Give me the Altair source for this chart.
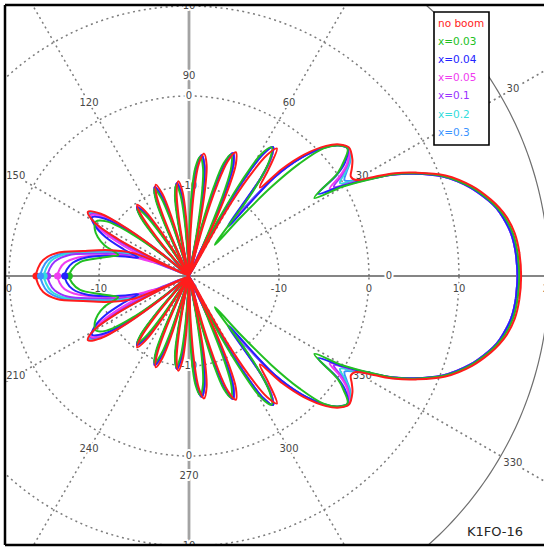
import math

import altair as alt
import pandas as pd

# ---------------------------------------------------------------- series
SERIES = ["no boom", "x=0.03", "x=0.04", "x=0.05", "x=0.1", "x=0.2", "x=0.3"]
COLORS = ["#ff1c1c", "#22bf22", "#2323ff", "#f03cf0", "#9933ff", "#33dcdc", "#3b94ff"]
DRAW_ORDER = ["x=0.3", "x=0.2", "x=0.1", "x=0.05", "x=0.04", "x=0.03", "no boom"]

# Upper half of each elevation pattern, (degrees, dBi); lower half is its mirror.
# Main lobe, first side lobe and the 56 deg lobe
HEAD_NO_BOOM = [(0, 16.9), (4, 16.8), (7.5, 16.5), (10.5, 15.9), (12.4, 15.3), (14.2, 14.6),
                (17.6, 13.0), (21.4, 10.6), (24.5, 7.7), (26.5, 5.6), (28.2, 3.3), (29.9, 1.4),
                (31.5, 1.1), (33.5, 1.7), (35.5, 2.3), (38.8, 2.8), (41.2, 2.2), (43.5, 1.0),
                (46.5, -1.4), (49.0, -4.2), (51.3, -7.4), (53.3, -5.2), (55.4, -2.8),
                (57.2, -4.0), (58.8, -7.0), (60.4, -12.0), (62.4, -30)]
HEAD_X003 = [(0, 16.7), (4, 16.6), (7.5, 16.3), (10.5, 15.7), (12.4, 15.1), (14.2, 14.4),
             (17.6, 12.8), (21.4, 10.4), (24.5, 7.5), (26.5, 5.3), (28.2, 2.7), (30.2, -0.3),
             (31.9, -3.6), (34.7, 0.1), (36.5, 1.4), (38.8, 2.6), (41.2, 2.0), (43.5, 0.6),
             (45.5, -2.5), (47.2, -6.5), (48.7, -11.5), (50.3, -15.5), (53.0, -8.0),
             (55.2, -4.3), (57.3, -3.0), (59.3, -4.2), (61.0, -8.0), (62.5, -13.0),
             (64.0, -17.0)]
HEAD_X004 = [(0, 16.5), (4, 16.4), (7.5, 16.1), (10.5, 15.5), (12.4, 15.0), (14.2, 14.3),
             (17.6, 12.7), (21.4, 10.3), (24.5, 7.4), (26.5, 5.2), (28.2, 2.8), (30.4, -0.2),
             (32.5, -3.0), (34.3, -0.2), (36.0, 1.4), (38.8, 2.6), (41.2, 2.0), (43.5, 0.7),
             (46.5, -1.9), (49.2, -5.6), (51.8, -13.0), (53.8, -6.4), (55.2, -4.1),
             (56.9, -2.9), (58.7, -4.1), (60.3, -7.5), (61.8, -12.5), (63.4, -30)]
HEAD_X005 = [(0, 16.5), (4, 16.4), (7.5, 16.1), (10.5, 15.5), (12.4, 15.0), (14.2, 14.3),
             (17.6, 12.7), (21.4, 10.3), (24.5, 7.4), (26.5, 5.2), (28.2, 2.9), (30.2, 0.3),
             (31.8, -1.6), (33.6, 0.2), (35.5, 1.6), (38.8, 2.7), (41.2, 2.1), (43.5, 0.8),
             (46.5, -1.8), (49.2, -5.5), (51.8, -12.0), (53.8, -6.3), (55.2, -4.0),
             (56.9, -2.9), (58.7, -4.1), (60.3, -7.5), (61.8, -12.5), (63.4, -30)]
HEAD_X01 = [(0, 16.5), (4, 16.4), (7.5, 16.1), (10.5, 15.5), (12.4, 15.0), (14.2, 14.3),
            (17.6, 12.7), (21.4, 10.3), (24.5, 7.5), (26.5, 5.3), (28.2, 2.9), (30.0, 0.6),
            (31.6, -1.1), (33.5, 0.4), (35.5, 1.7), (38.8, 2.7), (41.2, 2.1), (43.5, 0.8),
            (46.5, -1.8), (49.2, -5.5), (51.8, -11.5), (53.8, -6.2), (55.2, -4.0),
            (56.9, -2.9), (58.7, -4.1), (60.3, -7.5), (61.8, -12.5), (63.4, -30)]
HEAD_X02 = [(0, 16.5), (4, 16.4), (7.5, 16.1), (10.5, 15.5), (12.4, 15.0), (14.2, 14.3),
            (17.6, 12.8), (21.4, 10.4), (24.5, 7.5), (26.5, 5.4), (28.2, 3.0), (30.0, 1.0),
            (31.6, -0.3), (33.5, 0.8), (35.5, 1.9), (38.8, 2.7), (41.2, 2.1), (43.5, 0.8),
            (46.5, -1.8), (49.2, -5.5), (51.8, -11.0), (53.8, -6.2), (55.2, -4.0),
            (56.9, -2.9), (58.7, -4.1), (60.3, -7.5), (61.8, -12.5), (63.4, -30)]
HEAD_X03 = [(0, 16.6), (4, 16.5), (7.5, 16.2), (10.5, 15.6), (12.4, 15.1), (14.2, 14.4),
            (17.6, 12.8), (21.4, 10.4), (24.5, 7.6), (26.5, 5.4), (28.2, 3.0), (30.0, 1.2),
            (31.6, 0.3), (33.5, 1.0), (35.5, 2.0), (38.8, 2.7), (41.2, 2.1), (43.5, 0.8),
            (46.5, -1.8), (49.2, -5.5), (51.8, -10.5), (53.8, -6.2), (55.2, -4.0),
            (56.9, -2.9), (58.7, -4.1), (60.3, -7.5), (61.8, -12.5), (63.4, -30)]

# Narrow side lobes between 63 and 137 deg
PETALS_NO_BOOM = [(64.3, -14.3), (65.8, -9.3), (67.3, -6.5), (69.3, -5.3), (71.3, -6.5),
                  (72.8, -9.3), (74.3, -14.3), (76.2, -30),
                  (78.0, -15.3), (79.5, -10.3), (81.0, -7.5), (83.0, -6.3), (85.0, -7.5),
                  (86.5, -10.3), (88.0, -15.3), (89.7, -30),
                  (91.4, -18.4), (92.9, -13.4), (94.4, -10.6), (96.4, -9.4), (98.4, -10.6),
                  (99.9, -13.4), (101.4, -18.4), (103.2, -30),
                  (105.0, -18.2), (106.5, -13.2), (108.0, -10.4), (110.0, -9.2), (112.0, -10.4),
                  (113.5, -13.2), (115.0, -18.2), (118.0, -30),
                  (120.5, -18.8), (122.2, -14.3), (124.0, -11.3), (126.0, -10.2), (128.0, -11.3),
                  (129.8, -14.3), (131.5, -18.8), (136.0, -30)]
PETALS_X003 = [(65.9, -14.7), (67.4, -9.7), (68.9, -6.9), (70.9, -5.7), (72.9, -6.9),
               (74.4, -9.7), (75.9, -14.7), (77.8, -30),
               (79.6, -15.7), (81.1, -10.7), (82.6, -7.9), (84.6, -6.7), (86.6, -7.9),
               (88.1, -10.7), (89.6, -15.7), (91.3, -30),
               (93.0, -18.8), (94.5, -13.8), (96.0, -11.0), (98.0, -9.8), (100.0, -11.0),
               (101.5, -13.8), (103.0, -18.8), (104.8, -30),
               (106.6, -18.6), (108.1, -13.6), (109.6, -10.8), (111.6, -9.6), (113.6, -10.8),
               (115.1, -13.6), (116.6, -18.6), (119.6, -30),
               (122.1, -19.2), (123.8, -14.7), (125.6, -11.7), (127.6, -10.6), (129.6, -11.7),
               (131.4, -14.7), (133.1, -19.2), (137.6, -30)]
PETALS_BOOM = [(65.3, -14.5), (66.8, -9.5), (68.3, -6.7), (70.3, -5.5), (72.3, -6.7),
               (73.8, -9.5), (75.3, -14.5), (77.2, -30),
               (79.0, -15.5), (80.5, -10.5), (82.0, -7.7), (84.0, -6.5), (86.0, -7.7),
               (87.5, -10.5), (89.0, -15.5), (90.7, -30),
               (92.4, -18.6), (93.9, -13.6), (95.4, -10.8), (97.4, -9.6), (99.4, -10.8),
               (100.9, -13.6), (102.4, -18.6), (104.2, -30),
               (106.0, -18.4), (107.5, -13.4), (109.0, -10.6), (111.0, -9.4), (113.0, -10.6),
               (114.5, -13.4), (116.0, -18.4), (119.0, -30),
               (121.5, -19.0), (123.2, -14.5), (125.0, -11.5), (127.0, -10.4), (129.0, -11.5),
               (130.8, -14.5), (132.5, -19.0), (137.0, -30)]

# 147 deg lobe and the back lobe up to 180 deg
TAIL_NO_BOOM = [(140.5, -16.0), (142.5, -11.5), (144.8, -8.0), (147.6, -6.7), (150.3, -7.8),
                (152.5, -11.0), (154.2, -16.5), (155.5, -30), (157.7, -13.3), (161.8, -10.8),
                (166.7, -7.9), (170.1, -5.1), (173.7, -3.7), (177.0, -3.2), (180, -3.0)]
TAIL_X003 = [(141.2, -16.8), (143.5, -12.3), (146.5, -9.0), (149.8, -8.0), (153.5, -8.3),
             (157.0, -9.0), (160.0, -10.0), (163.5, -11.8), (166.0, -11.0), (168.6, -9.9),
             (172.7, -7.8), (176.5, -7.0), (180, -6.7)]
TAIL_X004 = [(141.0, -16.6), (143.1, -12.1), (145.7, -8.7), (148.9, -7.4), (152.0, -8.2),
             (155.0, -9.8), (157.8, -12.2), (160.3, -14.0), (163.0, -12.6), (166.5, -10.4),
             (170.0, -8.3), (173.5, -7.0), (177.0, -6.4), (180, -6.2)]
TAIL_X005 = [(140.8, -16.5), (142.9, -12.0), (145.4, -8.5), (148.5, -7.2), (151.4, -8.2),
             (154.0, -10.5), (156.5, -13.5), (158.5, -16.0), (160.8, -13.8), (163.8, -11.6),
             (167.2, -9.7), (170.5, -7.5), (174.0, -6.1), (177.0, -5.6), (180, -5.4)]
TAIL_X01 = [(140.7, -16.4), (142.8, -11.9), (145.2, -8.4), (148.2, -7.1), (151.0, -8.2),
            (153.4, -11.0), (155.5, -15.0), (157.2, -19.0), (159.0, -14.8), (162.5, -11.9),
            (166.8, -9.2), (170.2, -6.4), (173.8, -5.0), (177.0, -4.5), (180, -4.3)]
TAIL_X02 = [(140.6, -16.3), (142.7, -11.8), (145.0, -8.3), (148.0, -7.0), (150.7, -8.1),
            (153.0, -11.2), (154.9, -16.0), (156.5, -25), (158.3, -14.3), (162.2, -11.6),
            (166.7, -8.8), (170.1, -6.0), (173.7, -4.6), (177.0, -4.1), (180, -3.9)]
TAIL_X03 = [(140.5, -16.2), (142.6, -11.7), (144.9, -8.2), (147.8, -6.9), (150.5, -8.0),
            (152.8, -11.2), (154.6, -16.5), (156.0, -30), (158.0, -14.0), (162.0, -11.3),
            (166.7, -8.4), (170.1, -5.6), (173.7, -4.2), (177.0, -3.7), (180, -3.5)]

PARTS = {
    "no boom": (HEAD_NO_BOOM, PETALS_NO_BOOM, TAIL_NO_BOOM),
    "x=0.03": (HEAD_X003, PETALS_X003, TAIL_X003),
    "x=0.04": (HEAD_X004, PETALS_BOOM, TAIL_X004),
    "x=0.05": (HEAD_X005, PETALS_BOOM, TAIL_X005),
    "x=0.1": (HEAD_X01, PETALS_BOOM, TAIL_X01),
    "x=0.2": (HEAD_X02, PETALS_BOOM, TAIL_X02),
    "x=0.3": (HEAD_X03, PETALS_BOOM, TAIL_X03),
}

# ---------------------------------------------------------------- grid
DB_FLOOR = -20            # level at the centre of the plot
RING_DB = [-10, 0, 10]    # dotted rings
OUTER_RING_DB = 20        # solid ring
RADIAL_TICKS = [-20, -10, 0, 10, 20]
SPOKE_DEG = [30, 60, 120, 150, 210, 240, 300, 330]
ANGLE_TICKS = [0, 30, 60, 90, 120, 150, 180, 210, 240, 270, 300, 330]
TAG = "K1FO-16"

# ---------------------------------------------------------------- layout
PLOT_W, PLOT_H = 539, 540
PAD_L, PAD_T = 5, 5
CX, CY = 184, 271          # pattern centre inside the plot area (px)
PX_PER_DB = 9
ANGLE_LABEL_R = [200 / PX_PER_DB, 374 / PX_PER_DB]
FONT = "DejaVu Sans"


def ux(px_page):
    return (px_page - PAD_L - CX) / PX_PER_DB


def uy(py_page):
    return (CY + PAD_T - py_page) / PX_PER_DB


def visible(x, y, margin=6):
    px = CX + x * PX_PER_DB
    py = CY - y * PX_PER_DB
    return -margin <= px <= PLOT_W + margin and -margin <= py <= PLOT_H + margin


XS = alt.Scale(domain=[-CX / PX_PER_DB, (PLOT_W - CX) / PX_PER_DB], nice=False, zero=False)
YS = alt.Scale(domain=[-(PLOT_H - CY) / PX_PER_DB, CY / PX_PER_DB], nice=False, zero=False)
X = alt.X("x:Q", scale=XS, axis=None)
Y = alt.Y("y:Q", scale=YS, axis=None)
CS = alt.Scale(domain=SERIES, range=COLORS)

R_EXPR = f"max(datum.db - ({DB_FLOOR}), 0)"
XPOL = f"{R_EXPR} * cos(datum.deg * PI / 180)"
YPOL = f"{R_EXPR} * sin(datum.deg * PI / 180)"

# ---------------------------------------------------------------- pattern table
rows = []
for name in SERIES:
    head, petals, tail = PARTS[name]
    upper = head + petals + tail
    lower = [(360 - d, v) for d, v in reversed(upper[:-1])]
    full = upper + lower
    # overlap one point at each end so the closed outline stays smooth at 0 deg
    path = [full[-2]] + full + [full[1]]
    for i, (d, v) in enumerate(path):
        rows.append({"series": name, "i": i, "deg": d, "db": v})
pattern = pd.DataFrame(rows)
back = pd.DataFrame({"series": SERIES, "deg": 180,
                     "db": [PARTS[s][2][-1][1] for s in SERIES]})

layers = []

# dotted rings and the solid outer ring
ring_fields = [f"ring{i}" for i in range(len(RING_DB))]
rings = (
    alt.Chart(alt.sequence(0, 362, 2, as_="deg"))
    .transform_calculate(**{f: str(v) for f, v in zip(ring_fields, RING_DB)})
    .transform_fold(ring_fields, as_=["ring", "db"])
    .transform_calculate(x=XPOL, y=YPOL)
    .mark_line(color="#7c7c7c", strokeWidth=1.5, strokeDash=[2, 3.5], clip=True)
    .encode(x=X, y=Y, detail="ring:N", order="deg:Q")
)
outer = (
    alt.Chart(alt.sequence(0, 362, 1, as_="deg"))
    .transform_calculate(db=str(OUTER_RING_DB))
    .transform_calculate(x=XPOL, y=YPOL)
    .mark_line(color="#6e6e6e", strokeWidth=1.2, clip=True)
    .encode(x=X, y=Y, order="deg:Q")
)
spokes = (
    alt.Chart(pd.DataFrame({"deg": SPOKE_DEG}))
    .transform_calculate(x="0", y="0", x2="60 * cos(datum.deg * PI / 180)",
                         y2="60 * sin(datum.deg * PI / 180)")
    .mark_rule(color="#7c7c7c", strokeWidth=1.5, strokeDash=[2, 3.5], clip=True)
    .encode(x=X, y=Y, x2="x2:Q", y2="y2:Q")
)
axis_h = (
    alt.Chart(pd.DataFrame({"k": [0]}))
    .transform_calculate(x="-40", x2="60", y="0")
    .mark_rule(color="#5c5c5c", strokeWidth=1.3, clip=True)
    .encode(x=X, x2="x2:Q", y=Y)
)
axis_v = (
    alt.Chart(pd.DataFrame({"k": [0]}))
    .transform_calculate(y="-40", y2="40", x="0")
    .mark_rule(color="#a3a3a3", strokeWidth=2.8, clip=True)
    .encode(y=Y, y2="y2:Q", x=X)
)
layers += [rings, outer, spokes, axis_h, axis_v]


def labels(df, dy=0, size=10):
    base = alt.Chart(df).encode(x=X, y=Y, text="lab:N")
    halo = base.mark_text(font=FONT, fontSize=size, baseline="middle", dy=dy,
                          color="white", stroke="white", strokeWidth=4,
                          strokeJoin="round", clip=True)
    txt = base.mark_text(font=FONT, fontSize=size, baseline="middle", dy=dy,
                         color="#474747", clip=True)
    return [halo, txt]


# radial (dB) labels along the horizontal axis, under the line
hl = []
for v in RADIAL_TICKS:
    for side in (1, -1):
        if side == -1 and v == DB_FLOOR:
            continue
        x = side * (v - DB_FLOOR)
        if visible(x, 0):
            hl.append({"x": x, "y": 0, "lab": str(v)})
layers += labels(pd.DataFrame(hl), dy=13)

# radial labels on the vertical axis
vl = []
for v in RADIAL_TICKS:
    if v == DB_FLOOR:
        continue
    for side in (1, -1):
        y = side * (v - DB_FLOOR)
        if visible(0, y):
            vl.append({"x": 0, "y": y, "lab": str(v)})
layers += labels(pd.DataFrame(vl))

# angle labels
al = []
for r in ANGLE_LABEL_R:
    for a in ANGLE_TICKS:
        x = r * math.cos(math.radians(a))
        y = r * math.sin(math.radians(a))
        if visible(x, y, margin=-6):
            al.append({"deg": a, "rr": r, "lab": str(a)})
al_chart = alt.Chart(pd.DataFrame(al)).transform_calculate(
    x="datum.rr * cos(datum.deg * PI / 180)", y="datum.rr * sin(datum.deg * PI / 180)"
).encode(x=X, y=Y, text="lab:N")
layers += [
    al_chart.mark_text(font=FONT, fontSize=10, baseline="middle", color="white",
                       stroke="white", strokeWidth=4, strokeJoin="round", clip=True),
    al_chart.mark_text(font=FONT, fontSize=10, baseline="middle", color="#474747", clip=True),
]

# the patterns
for name in DRAW_ORDER:
    layers.append(
        alt.Chart(pattern[pattern["series"] == name])
        .transform_calculate(x=XPOL, y=YPOL)
        .mark_line(interpolate="catmull-rom", strokeWidth=2, clip=True)
        .encode(x=X, y=Y, order="i:Q",
                color=alt.Color("series:N", scale=CS, legend=None))
    )

# back-lobe markers at 180 deg
layers.append(
    alt.Chart(back)
    .transform_calculate(x=XPOL, y=YPOL)
    .mark_circle(size=50, opacity=1)
    .encode(x=X, y=Y, color=alt.Color("series:N", scale=CS, legend=None))
)

# legend box
box = pd.DataFrame({"x": [ux(434)], "x2": [ux(489)], "y": [uy(12)], "y2": [uy(145)]})
layers.append(
    alt.Chart(box).mark_rect(fill="white", stroke="black", strokeWidth=1.6)
    .encode(x=X, x2="x2:Q", y=Y, y2="y2:Q")
)
leg = pd.DataFrame({"series": SERIES,
                    "x": ux(438),
                    "y": [uy(24 + 18.1 * k) for k in range(len(SERIES))]})
layers.append(
    alt.Chart(leg).mark_text(font=FONT, fontSize=10.5, align="left", baseline="middle")
    .encode(x=X, y=Y, text="series:N", color=alt.Color("series:N", scale=CS, legend=None))
)

# tag
layers.append(
    alt.Chart(pd.DataFrame({"x": [ux(495)], "y": [uy(532)], "lab": [TAG]}))
    .mark_text(font=FONT, fontSize=13, baseline="middle", color="#262626")
    .encode(x=X, y=Y, text="lab:N")
)

# frame: top, left and bottom edges
frame = pd.DataFrame({"k": [0]})
layers += [
    alt.Chart(frame).mark_rule(color="black", strokeWidth=2.5)
    .encode(x=alt.value(0), x2=alt.value(PLOT_W), y=alt.value(0)),
    alt.Chart(frame).mark_rule(color="black", strokeWidth=2.5)
    .encode(x=alt.value(0), y=alt.value(0), y2=alt.value(PLOT_H)),
    alt.Chart(frame).mark_rule(color="black", strokeWidth=2.5)
    .encode(x=alt.value(0), x2=alt.value(PLOT_W), y=alt.value(PLOT_H)),
]

chart = (
    alt.layer(*layers)
    .properties(width=PLOT_W, height=PLOT_H,
                padding={"left": PAD_L, "top": PAD_T, "right": 0, "bottom": 3},
                autosize=alt.AutoSizeParams(type="none"),
                background="white")
    .configure_view(stroke=None)
)

chart.save("out.html", embed_options={"renderer": "svg", "actions": False})
